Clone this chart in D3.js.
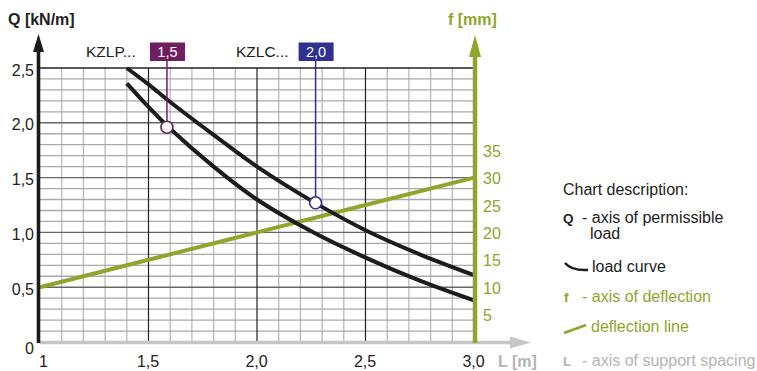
<!DOCTYPE html>
<html><head><meta charset="utf-8">
<script src="https://cdn.jsdelivr.net/npm/d3@7/dist/d3.min.js"></script>
<style>
html,body{margin:0;padding:0;background:#fff;}
svg{display:block;font-family:"Liberation Sans",Arial,sans-serif;}
</style></head>
<body>
<svg id="chart" width="757" height="371"></svg>
<script>
// ---- data ----
const spacingL = [1.4, 1.5, 1.6, 1.8, 2.0, 2.25, 2.5, 2.75, 3.0];
const loadKZLC = [2.5, 2.35, 2.19, 1.89, 1.60, 1.29, 1.02, 0.80, 0.61]; // upper curve, 2,0
const loadKZLP = [2.36, 2.145, 1.945, 1.60, 1.30, 1.01, 0.77, 0.56, 0.38]; // lower curve, 1,5
const deflL = [1.0, 1.5, 2.0, 2.5, 3.0];
const deflF = [10, 15, 20, 25, 30];
const seriesNames = ["KZLP...", "KZLC..."];
const markerLabels = ["1,5", "2,0"];
const markerL = [1.585, 2.27];
const markerQ = [1.96, 1.27];
const xTicks = [1, 1.5, 2, 2.5, 3];
const xTickLabels = ["1", "1,5", "2,0", "2,5", "3,0"];
const qTicks = [0, 0.5, 1, 1.5, 2, 2.5];
const qTickLabels = ["0", "0,5", "1,0", "1,5", "2,0", "2,5"];
const fTicks = [5, 10, 15, 20, 25, 30, 35];
const fTickLabels = ["5", "10", "15", "20", "25", "30", "35"];

// ---- styles ----
const GREEN = "#8ea62c", GRAY = "#b4b4b4", BLACK = "#1c1c1c";
const markerColors = ["#6e1f60", "#2e3192"];

const svg = d3.select("#chart");
const x = d3.scaleLinear().domain([1, 3]).range([40, 474]);
const y = d3.scaleLinear().domain([0, 2.5]).range([342, 68]);
const yf = d3.scaleLinear().domain([0, 50]).range([342, 68]);

// grid
const g = svg.append("g");
const minorX = d3.range(10, 31).map(d => d / 10);
const minorY = d3.range(0, 26).map(d => d / 10);
g.selectAll("line.vx").data(minorX.filter(d => Math.round(d*10) % 5 !== 0)).join("line")
  .attr("x1", d => x(d)).attr("x2", d => x(d)).attr("y1", y(0)).attr("y2", y(2.5))
  .attr("stroke", "#b9b9b9").attr("stroke-width", 1.3);
g.selectAll("line.hy").data(minorY.filter(d => Math.round(d*10) % 5 !== 0)).join("line")
  .attr("x1", x(1)).attr("x2", x(3)).attr("y1", d => y(d)).attr("y2", d => y(d))
  .attr("stroke", "#a9a9a9").attr("stroke-width", 1.3);
g.selectAll("line.hmaj").data([0.5, 1, 1.5, 2]).join("line")
  .attr("x1", x(1)).attr("x2", x(3)).attr("y1", d => y(d)).attr("y2", d => y(d))
  .attr("stroke", "#666").attr("stroke-width", 1.4);
g.selectAll("line.vmaj").data([1.5, 2, 2.5]).join("line")
  .attr("x1", d => x(d)).attr("x2", d => x(d)).attr("y1", y(0)).attr("y2", y(2.5))
  .attr("stroke", "#222").attr("stroke-width", 1.2);
g.append("line").attr("x1", x(1)).attr("x2", x(3)).attr("y1", y(2.5)).attr("y2", y(2.5))
  .attr("stroke", "#222").attr("stroke-width", 1.4);

// L axis (gray arrow)
svg.append("line").attr("x1", x(1)).attr("x2", 515).attr("y1", 342.5).attr("y2", 342.5)
  .attr("stroke", "#c6c6c6").attr("stroke-width", 3.4);
svg.append("path").attr("d", "M510,336.5 L531,342.5 L510,348.5 Z").attr("fill", "#c6c6c6");

// deflection line
const lineF = d3.line().x((d, i) => x(deflL[i])).y(d => yf(d));
svg.append("path").datum(deflF).attr("d", lineF).attr("fill", "none")
  .attr("stroke", GREEN).attr("stroke-width", 4);

// load curves
const lineQ = d3.line().x((d, i) => x(spacingL[i])).y(d => y(d)).curve(d3.curveCatmullRom.alpha(0.5));
[loadKZLP, loadKZLC].forEach(s => {
  svg.append("path").datum(s).attr("d", lineQ).attr("fill", "none")
    .attr("stroke", BLACK).attr("stroke-width", 4);
});

// Q axis (black arrow)
svg.append("line").attr("x1", 38.5).attr("x2", 38.5).attr("y1", 50).attr("y2", 343)
  .attr("stroke", BLACK).attr("stroke-width", 3.6);
svg.append("path").attr("d", "M33,52 L38.5,34 L44,52 Z").attr("fill", BLACK);

// f axis (green arrow)
svg.append("line").attr("x1", 475).attr("x2", 475).attr("y1", 55).attr("y2", 343)
  .attr("stroke", GREEN).attr("stroke-width", 4.5);
svg.append("path").attr("d", "M469,57 L475,35 L481,57 Z").attr("fill", GREEN);

// axes tick labels via d3 axes
const axB = d3.axisBottom(x).tickValues(xTicks).tickSize(0).tickPadding(0)
  .tickFormat((d, i) => xTickLabels[i]);
const gB = svg.append("g").attr("transform", "translate(-1,356)").call(axB);
const axL = d3.axisLeft(y).tickValues(qTicks).tickSize(0).tickPadding(0)
  .tickFormat((d, i) => qTickLabels[i]);
const gL = svg.append("g").attr("transform", "translate(34,2)").call(axL);
const axR = d3.axisRight(yf).tickValues(fTicks).tickSize(0).tickPadding(0)
  .tickFormat((d, i) => fTickLabels[i]);
const gR = svg.append("g").attr("transform", "translate(483,1)").call(axR);
[gB, gL, gR].forEach(a => {
  a.select(".domain").remove();
  a.selectAll("text").attr("font-size", 16).attr("font-family", "Liberation Sans, Arial, sans-serif");
});
gB.selectAll("text").attr("fill", "#222");
gB.selectAll("text").filter(d => d === 1).attr("dx", 4);
gL.selectAll("text").attr("fill", "#222");
gL.selectAll("text").filter(d => d === 0).attr("dy", "0.6em");
gR.selectAll("text").attr("fill", GREEN);

// axis titles
svg.append("text").attr("x", 8).attr("y", 25).attr("font-size", 16).attr("font-weight", "bold")
  .attr("fill", "#222").text("Q [kN/m]");
svg.append("text").attr("x", 448).attr("y", 25).attr("font-size", 16).attr("font-weight", "bold")
  .attr("fill", GREEN).text("f [mm]");
svg.append("text").attr("x", 498).attr("y", 367).attr("font-size", 16).attr("font-weight", "bold")
  .attr("fill", GRAY).text("L [m]");

// series labels and markers
const nameX = [86, 236];
seriesNames.forEach((n, i) => {
  svg.append("text").attr("x", nameX[i]).attr("y", 57).attr("font-size", 15.5)
    .attr("fill", "#222").text(n);
  const mx = x(markerL[i]), my = y(markerQ[i]);
  svg.append("line").attr("x1", mx).attr("x2", mx).attr("y1", 60).attr("y2", my - 6)
    .attr("stroke", markerColors[i]).attr("stroke-width", 1.5);
  svg.append("rect").attr("x", mx - 17).attr("y", 42.5).attr("width", 35).attr("height", 18.5)
    .attr("fill", markerColors[i]);
  svg.append("text").attr("x", mx + 0.5).attr("y", 57).attr("text-anchor", "middle")
    .attr("font-size", 14.5).attr("fill", "#fff").text(markerLabels[i]);
  svg.append("circle").attr("cx", mx).attr("cy", my).attr("r", 6)
    .attr("fill", "#fff").attr("stroke", markerColors[i]).attr("stroke-width", 1.6);
});

// legend
const lg = svg.append("g").attr("font-size", 16);
lg.append("text").attr("x", 563).attr("y", 195).attr("fill", "#222").text("Chart description:");
lg.append("text").attr("x", 563).attr("y", 223).attr("fill", "#222").attr("font-weight", "bold").attr("font-size", 13.5).text("Q");
lg.append("text").attr("x", 582).attr("y", 223).attr("fill", "#222").text("- axis of permissible");
lg.append("text").attr("x", 590).attr("y", 239).attr("fill", "#222").text("load");
lg.append("path").attr("d", "M565,263 Q572,271 588,270").attr("fill", "none").attr("stroke", BLACK).attr("stroke-width", 2.5);
lg.append("text").attr("x", 592).attr("y", 272).attr("fill", "#222").text("load curve");
lg.append("text").attr("x", 564).attr("y", 302).attr("fill", GREEN).attr("font-weight", "bold").attr("font-size", 13.5).text("f");
lg.append("text").attr("x", 582).attr("y", 302).attr("fill", GREEN).text("- axis of deflection");
lg.append("line").attr("x1", 564).attr("y1", 333).attr("x2", 586).attr("y2", 325).attr("stroke", GREEN).attr("stroke-width", 2.5);
lg.append("text").attr("x", 591).attr("y", 332).attr("fill", GREEN).text("deflection line");
lg.append("text").attr("x", 563).attr("y", 366).attr("fill", GRAY).attr("font-weight", "bold").attr("font-size", 13.5).text("L");
lg.append("text").attr("x", 582).attr("y", 366).attr("fill", GRAY).text("- axis of support spacing");
</script>
</body></html>
